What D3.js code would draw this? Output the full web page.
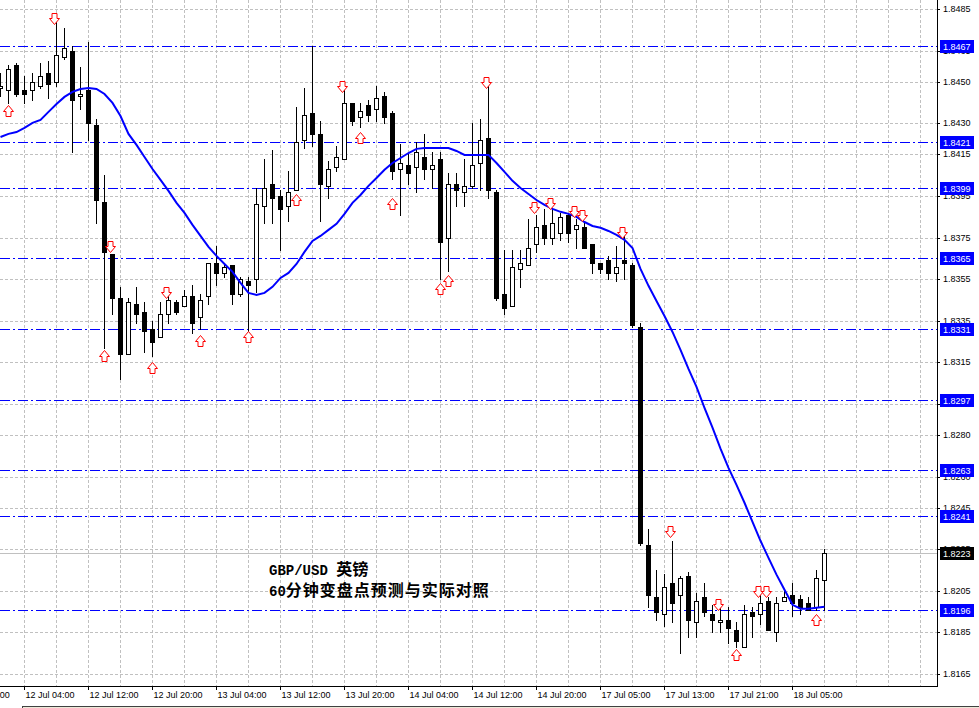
<!DOCTYPE html>
<html><head><meta charset="utf-8">
<script src="https://cdn.jsdelivr.net/npm/d3@7"></script>
<style>body{margin:0;background:#fff;overflow:hidden}svg{display:block}</style>
</head><body>
<svg id="c" width="979" height="708"></svg>
<script>
// ---- DATA (hourly GBP/USD bars, index 0 = 12 Jul 01:00) ----
const opens = [1.8447,1.8446,1.8458,1.8446,1.8446,1.8448,1.8454,1.8450,1.8462,1.8465,
1.8443,1.8446,1.8429,1.8392,1.8367,1.8346,1.8319,1.8343,1.8339,1.8331,
1.8327,1.8338,1.8344,1.8342,1.8347,1.8337,1.8347,1.8363,1.8358,1.8362,
1.8348,1.8354,1.8355,1.8390,1.8401,1.8395,1.8390,1.8398,1.8422,1.8435,
1.8425,1.8400,1.8409,1.8413,1.8440,1.8433,1.8439,1.8437,1.8443,1.8435,
1.8408,1.8410,1.8409,1.8414,1.8408,1.8413,1.8375,1.8401,1.8397,1.8400,
1.8411,1.8423,1.8397,1.8348,1.8342,1.8360,1.8362,1.8372,1.8381,1.8375,
1.8377,1.8386,1.8379,1.8380,1.8372,1.8363,1.8364,1.8358,1.8364,1.8362,
1.8332,1.8227,1.8202,1.8194,1.8209,1.8203,1.8212,1.8190,1.8202,1.8194,
1.8190,1.8191,1.8186,1.8178,1.8195,1.8194,1.8200,1.8185,1.8200,1.8203,
1.8201,1.8199,1.8197,1.8210];
const highs = [1.8454,1.8458,1.8459,1.8453,1.8454,1.8459,1.8460,1.8480,1.8476,1.8467,
1.8457,1.8469,1.8432,1.8405,1.8367,1.8351,1.8346,1.8351,1.8344,1.8335,
1.8344,1.8348,1.8345,1.8350,1.8352,1.8348,1.8363,1.8371,1.8363,1.8362,
1.8356,1.8356,1.8399,1.8413,1.8417,1.8398,1.8407,1.8438,1.8447,1.8467,
1.8431,1.8412,1.8419,1.8447,1.8440,1.8440,1.8441,1.8448,1.8445,1.8436,
1.8420,1.8415,1.8421,1.8425,1.8416,1.8416,1.8406,1.8406,1.8413,1.8430,
1.8432,1.8448,1.8398,1.8369,1.8369,1.8369,1.8384,1.8386,1.8389,1.8389,
1.8387,1.8387,1.8384,1.8382,1.8372,1.8363,1.8366,1.8371,1.8377,1.8363,
1.8334,1.8235,1.8215,1.8213,1.8229,1.8212,1.8214,1.8204,1.8209,1.8198,
1.8197,1.8197,1.8190,1.8198,1.8197,1.8204,1.8202,1.8202,1.8206,1.8209,
1.8203,1.8202,1.8215,1.8225];
const lows = [1.8443,1.8440,1.8443,1.8440,1.8441,1.8447,1.8442,1.8448,1.8461,1.8416,
1.8437,1.8422,1.8382,1.8322,1.8338,1.8307,1.8319,1.8334,1.8320,1.8318,
1.8327,1.8334,1.8338,1.8342,1.8329,1.8331,1.8343,1.8352,1.8356,1.8343,
1.8347,1.8330,1.8349,1.8382,1.8382,1.8369,1.8383,1.8398,1.8418,1.8419,
1.8383,1.8394,1.8407,1.8413,1.8429,1.8428,1.8431,1.8431,1.8430,1.8403,
1.8386,1.8401,1.8397,1.8403,1.8399,1.8355,1.8359,1.8390,1.8390,1.8399,
1.8398,1.8394,1.8345,1.8338,1.8342,1.8351,1.8362,1.8368,1.8372,1.8372,
1.8374,1.8373,1.8370,1.8370,1.8358,1.8358,1.8355,1.8354,1.8355,1.8332,
1.8227,1.8197,1.8191,1.8188,1.8190,1.8175,1.8183,1.8183,1.8193,1.8185,
1.8185,1.8180,1.8178,1.8178,1.8183,1.8189,1.8186,1.8181,1.8200,1.8193,
1.8194,1.8196,1.8196,1.8196];
const closes = [1.8448,1.8456,1.8444,1.8444,1.8450,1.8453,1.8449,1.8463,1.8466,1.8441,
1.8444,1.8430,1.8393,1.8368,1.8346,1.8319,1.8344,1.8338,1.8330,1.8325,
1.8338,1.8345,1.8339,1.8347,1.8334,1.8345,1.8363,1.8358,1.8361,1.8348,
1.8355,1.8352,1.8391,1.8399,1.8394,1.8389,1.8397,1.8421,1.8434,1.8425,
1.8401,1.8408,1.8414,1.8440,1.8431,1.8436,1.8434,1.8442,1.8433,1.8407,
1.8411,1.8406,1.8416,1.8408,1.8410,1.8373,1.8401,1.8398,1.8400,1.8410,
1.8422,1.8398,1.8346,1.8341,1.8361,1.8363,1.8370,1.8380,1.8375,1.8382,
1.8385,1.8377,1.8381,1.8370,1.8363,1.8360,1.8358,1.8361,1.8363,1.8333,
1.8228,1.8203,1.8195,1.8207,1.8199,1.8211,1.8191,1.8200,1.8195,1.8191,
1.8191,1.8187,1.8181,1.8194,1.8193,1.8199,1.8186,1.8199,1.8202,1.8199,
1.8197,1.8196,1.8211,1.8223];
const maValues = [1.84234,1.84249,1.84258,1.84278,1.84302,1.84316,1.84355,1.84393,1.84427,1.84451,
1.84465,1.8447,1.84465,1.84441,1.84398,1.84335,1.84249,1.84196,1.84138,1.8408,
1.84028,1.83975,1.83917,1.83869,1.83811,1.83758,1.83705,1.83662,1.83623,1.83585,
1.83532,1.83484,1.83474,1.83484,1.83513,1.83556,1.8358,1.83623,1.83681,1.83734,
1.83758,1.83787,1.83816,1.83864,1.83917,1.83955,1.83999,1.84037,1.84076,1.84109,
1.84133,1.84157,1.84177,1.84181,1.84181,1.84181,1.84181,1.84167,1.84148,1.84148,
1.84148,1.84148,1.84109,1.84066,1.84023,1.83989,1.8396,1.83931,1.83907,1.83888,
1.83874,1.83864,1.8385,1.83825,1.83806,1.83797,1.83782,1.83763,1.83739,1.837,
1.83599,1.83518,1.83445,1.83373,1.83296,1.8321,1.83118,1.83032,1.82931,1.82835,
1.82734,1.82642,1.8256,1.82474,1.82382,1.82291,1.82209,1.82128,1.82055,1.81983,
1.81964,1.81964,1.81969,1.81974];
const sellArrowBars   = [7, 14, 21, 43, 61, 67, 69, 72, 73, 78, 84, 90, 95, 96];
const sellArrowPrices = [1.8478,1.8368,1.8346,1.8445,1.8447,1.8387,1.8389,1.8385,1.8383,1.8375,1.8231,1.8196,1.8202,1.8202];
const buyArrowBars    = [1, 13, 19, 25, 31, 37, 45, 49, 55, 56, 92, 102];
const buyArrowPrices  = [1.8439,1.8321,1.8315,1.8328,1.8330,1.8396,1.8426,1.8394,1.8353,1.8357,1.8177,1.8194];
const levelPrices = [1.8467, 1.8421, 1.8399, 1.8365, 1.8331, 1.8297, 1.8263, 1.8241, 1.8196];
const lastPrice = 1.8223;
const priceTicks = [1.8485,1.8465,1.8450,1.8430,1.8415,1.8395,1.8375,1.8355,1.8335,1.8315,
1.8295,1.8280,1.8260,1.8245,1.8225,1.8205,1.8185,1.8165];
const xTickBars = [-5, 3, 11, 19, 27, 35, 43, 51, 59, 67, 75, 83, 91, 99];
const xTickLabels = ["11 Jul 20:00","12 Jul 04:00","12 Jul 12:00","12 Jul 20:00","13 Jul 04:00",
"13 Jul 12:00","13 Jul 20:00","14 Jul 04:00","14 Jul 12:00","14 Jul 20:00","17 Jul 05:00",
"17 Jul 13:00","17 Jul 21:00","18 Jul 05:00"];
const titleSymbol = "GBP/USD", titleName = "英镑";
const subtitleNum = "60", subtitleText = "分钟变盘点预测与实际对照";

// ---- DRAW ----
const svg = d3.select("#c");
const W = 937, H = 686;
const FONT = "'Liberation Sans', Arial, sans-serif";
const x = d3.scaleLinear().domain([0, 103]).range([0, 824]);
const y = d3.scaleLinear().domain([1.8165, 1.8485]).range([674, 9]);
const yr = y.copy().interpolate(d3.interpolateRound);
const cx = k => x(k) + 0.5;

svg.append("rect").attr("width", 979).attr("height", 708).attr("fill", "#fff");

// grid
const grid = svg.append("g").attr("stroke", "#c0c0c0").attr("stroke-dasharray", "3,2")
  .attr("shape-rendering", "crispEdges");
priceTicks.forEach(t => grid.append("line").attr("x1", 0).attr("x2", W)
  .attr("y1", yr(t) + 0.5).attr("y2", yr(t) + 0.5));
d3.range(-1, 116, 4).forEach(k => grid.append("line").attr("y1", 0).attr("y2", H)
  .attr("x1", cx(k)).attr("x2", cx(k)));

// level lines
const lv = svg.append("g").attr("shape-rendering", "crispEdges");
levelPrices.forEach(p => lv.append("line").attr("x1", 0).attr("x2", W)
  .attr("y1", yr(p) + 0.5).attr("y2", yr(p) + 0.5)
  .attr("stroke", "#0000ff").attr("stroke-dasharray", "10,3,2,3"));
lv.append("line").attr("x1", 0).attr("x2", W)
  .attr("y1", yr(lastPrice) + 0.5).attr("y2", yr(lastPrice) + 0.5).attr("stroke", "#c0c0c0");

// candles
const cg = svg.append("g").attr("shape-rendering", "crispEdges");
opens.forEach((o, k) => {
  const c = closes[k];
  cg.append("line").attr("x1", cx(k)).attr("x2", cx(k))
    .attr("y1", yr(highs[k])).attr("y2", yr(lows[k]) + 1).attr("stroke", "#000");
  const top = yr(Math.max(o, c)), bot = yr(Math.min(o, c));
  if (c >= o) {
    cg.append("rect").attr("x", x(k) - 1.5).attr("y", top + 0.5)
      .attr("width", 4).attr("height", Math.max(bot - top, 1))
      .attr("fill", "#fff").attr("stroke", "#000");
  } else {
    cg.append("rect").attr("x", x(k) - 2).attr("y", top)
      .attr("width", 5).attr("height", Math.max(bot - top + 1, 2)).attr("fill", "#000");
  }
});

// moving average
svg.append("path").datum(maValues)
  .attr("d", d3.line().x((d, i) => cx(i)).y(d => y(d)))
  .attr("fill", "none").attr("stroke", "#0000ff").attr("stroke-width", 2);

// arrows
const ag = svg.append("g").attr("fill", "#fff").attr("stroke", "#ff0000").attr("stroke-width", 1);
const downPath = "M-2.5,-11H2.5V-6H5L0,0L-5,-6H-2.5Z";
const upPath = "M0,0L5,6H2.5V11H-2.5V6H-5Z";
sellArrowBars.forEach((b, i) => ag.append("path").attr("d", downPath)
  .attr("transform", `translate(${x(b) - 1.5},${yr(sellArrowPrices[i]) + 0.5})`));
buyArrowBars.forEach((b, i) => ag.append("path").attr("d", upPath)
  .attr("transform", `translate(${x(b) + 0.5},${yr(buyArrowPrices[i]) + 0.5})`));

// title text
const t1 = svg.append("text").attr("x", 269).attr("y", 575).attr("font-weight", "bold").attr("fill", "#000");
t1.append("tspan").attr("font-family", "'Liberation Mono', monospace").attr("font-size", 14).text(titleSymbol + " ");
t1.append("tspan").attr("font-family", "'Noto Sans CJK SC', sans-serif").attr("font-size", 16).text(titleName);
const t2 = svg.append("text").attr("x", 269).attr("y", 596).attr("font-weight", "bold").attr("fill", "#000");
t2.append("tspan").attr("font-family", "'Liberation Mono', monospace").attr("font-size", 14).text(subtitleNum);
t2.append("tspan").attr("font-family", "'Noto Sans CJK SC', sans-serif").attr("font-size", 16)
  .attr("letter-spacing", 1).text(subtitleText);

// axes frame
const fr = svg.append("g").attr("stroke", "#000").attr("shape-rendering", "crispEdges");
fr.append("line").attr("x1", 0).attr("x2", W + 1).attr("y1", H + 0.5).attr("y2", H + 0.5);
fr.append("line").attr("x1", W + 0.5).attr("x2", W + 0.5).attr("y1", 0).attr("y2", H + 1);

// bottom axis
const xa = svg.append("g").attr("transform", `translate(0,${H})`)
  .call(d3.axisBottom(x).tickValues(xTickBars).tickFormat((d, i) => xTickLabels[i])
    .tickSizeInner(4).tickSizeOuter(0).tickPadding(2));
xa.select(".domain").remove();
xa.selectAll("line").attr("shape-rendering", "crispEdges");
xa.selectAll("text").attr("text-anchor", "start").attr("x", 1)
  .attr("font-family", FONT).attr("font-size", 9).attr("fill", "#000");

// right axis
const ya = svg.append("g").attr("transform", `translate(${W},0)`)
  .call(d3.axisRight(yr).tickValues(priceTicks).tickFormat(d3.format(".4f"))
    .tickSizeInner(3).tickSizeOuter(0).tickPadding(3));
ya.select(".domain").remove();
ya.selectAll("line").attr("shape-rendering", "crispEdges");
ya.selectAll("text").attr("font-family", FONT).attr("font-size", 9).attr("fill", "#000");

// price labels for levels
const lb = svg.append("g").attr("font-family", FONT).attr("font-size", 9);
function priceBox(p, bg) {
  const yy = yr(p);
  lb.append("rect").attr("x", 940).attr("y", yy - 6).attr("width", 34).attr("height", 13)
    .attr("fill", bg).attr("shape-rendering", "crispEdges");
  lb.append("text").attr("x", 943).attr("y", yy + 0.5).attr("dy", "0.35em")
    .attr("fill", "#fff").text(d3.format(".4f")(p));
}
levelPrices.forEach(p => priceBox(p, "#0000ff"));
priceBox(lastPrice, "#000");

// window frame strip at bottom
svg.append("rect").attr("x", 22).attr("y", 706).attr("width", 960).attr("height", 3)
  .attr("fill", "#ece9d8").attr("stroke", "#404040").attr("shape-rendering", "crispEdges");
</script>
</body></html>
